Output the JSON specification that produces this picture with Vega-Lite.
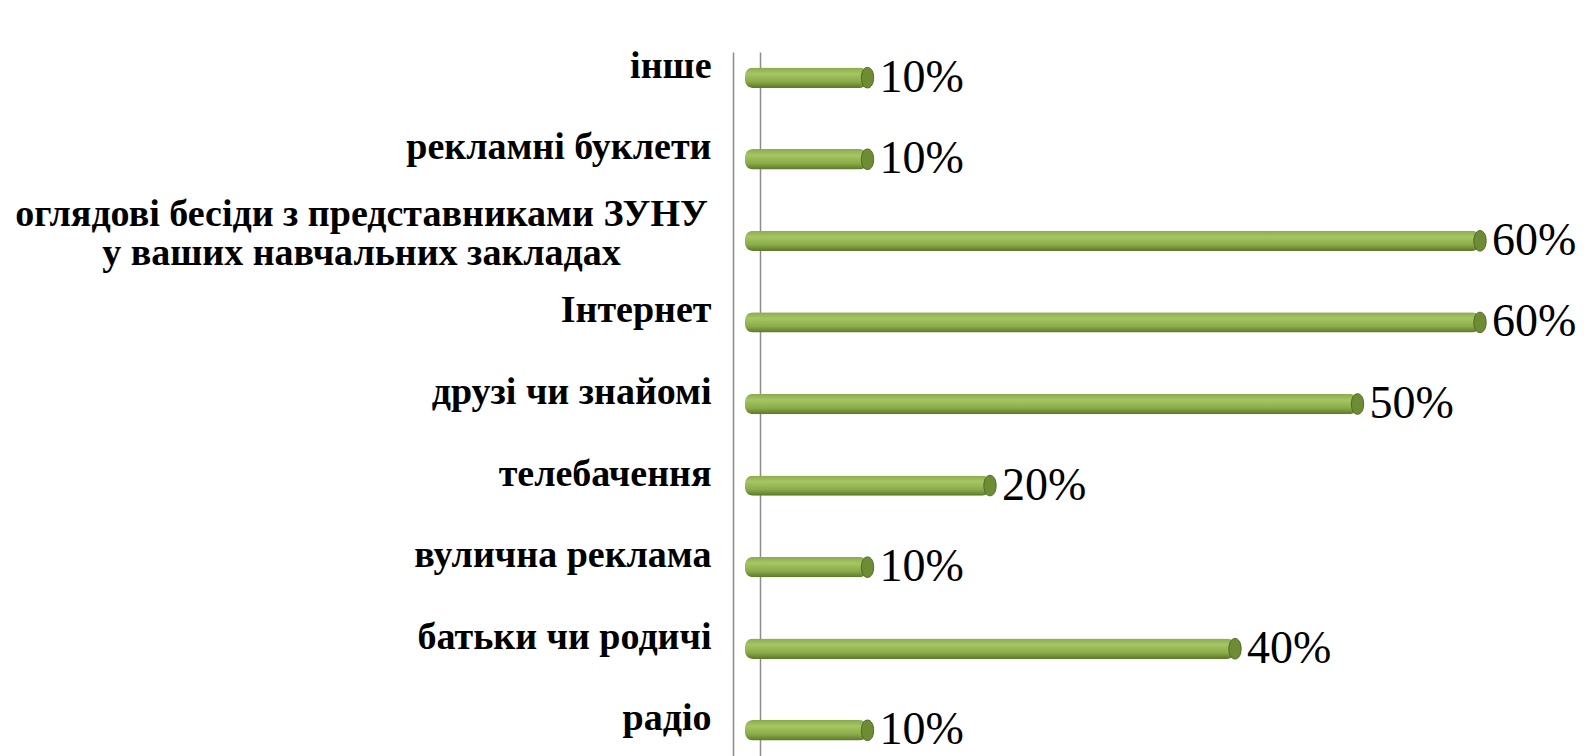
{
  "$schema": "https://vega.github.io/schema/vega-lite/v6.json",
  "width": 735,
  "height": 704,
  "autosize": {"type": "none"},
  "padding": {"left": 745, "top": 52, "right": 109, "bottom": 0},
  "background": "white",
  "config": {"view": {"stroke": null}},
  "data": {
    "values": [
      {"category": "інше", "value": 0.1},
      {"category": "рекламні буклети", "value": 0.1},
      {"category": "оглядові бесіди з представниками ЗУНУ|у ваших навчальних закладах", "value": 0.6},
      {"category": "Інтернет", "value": 0.6},
      {"category": "друзі чи знайомі", "value": 0.5},
      {"category": "телебачення", "value": 0.2},
      {"category": "вулична реклама", "value": 0.1},
      {"category": "батьки чи родичі", "value": 0.4},
      {"category": "радіо", "value": 0.1}
    ]
  },
  "layer": [
    {
      "mark": {
        "type": "bar",
        "cornerRadius": 8,
        "fill": {
          "gradient": "linear",
          "x1": 0, "y1": 0, "x2": 0, "y2": 1,
          "stops": [
            {"offset": 0, "color": "#8aaa4c"},
            {"offset": 0.3, "color": "#a6c665"},
            {"offset": 0.7, "color": "#8aab47"},
            {"offset": 1, "color": "#5b772b"}
          ]
        }
      },
      "encoding": {
        "y": {
          "field": "category",
          "type": "nominal",
          "sort": null,
          "scale": {"paddingInner": 0.75, "paddingOuter": 0.19},
          "axis": {
            "title": null,
            "ticks": false,
            "domain": true,
            "domainColor": "#8c8c8c",
            "domainWidth": 1.5,
            "offset": 12,
            "labelPadding": {"condition": {"test": "indexof(datum.value, '|') >= 0", "value": 372}, "value": 22},
            "labelAlign": {"condition": {"test": "indexof(datum.value, '|') >= 0", "value": "center"}, "value": "right"},
            "labelFont": "Liberation Serif",
            "labelFontWeight": "bold",
            "labelFontSize": 38,
            "labelColor": "#000000",
            "labelOffset": {"condition": {"test": "indexof(datum.value, '|') >= 0", "value": -26}, "value": -11},
            "labelLineHeight": 39,
            "labelLimit": 0,
            "labelExpr": "split(datum.label, '|')"
          }
        },
        "x": {
          "field": "value",
          "type": "quantitative",
          "scale": {"domain": [0, 0.6], "nice": false},
          "axis": {
            "values": [0.012],
            "grid": true,
            "gridColor": "#8c8c8c",
            "gridWidth": 1.5,
            "labels": false,
            "ticks": false,
            "domain": false,
            "title": null
          }
        }
      }
    },
    {
      "mark": {
        "type": "point",
        "shape": "M0,-1 C0.8,-1 0.8,1 0,1 C-0.8,1 -0.8,-1 0,-1 Z",
        "filled": true,
        "fill": "#6d8c33",
        "stroke": "#4f6a22",
        "strokeWidth": 1,
        "size": 420,
        "opacity": 1
      },
      "encoding": {
        "y": {"field": "category", "type": "nominal", "sort": null},
        "x": {"field": "value", "type": "quantitative"}
      }
    },
    {
      "mark": {
        "type": "text",
        "align": "left",
        "baseline": "middle",
        "dx": 12,
        "font": "Liberation Serif",
        "fontSize": 46,
        "color": "#000000"
      },
      "encoding": {
        "y": {"field": "category", "type": "nominal", "sort": null},
        "x": {"field": "value", "type": "quantitative"},
        "text": {"field": "value", "type": "quantitative", "format": ".0%"}
      }
    }
  ]
}
